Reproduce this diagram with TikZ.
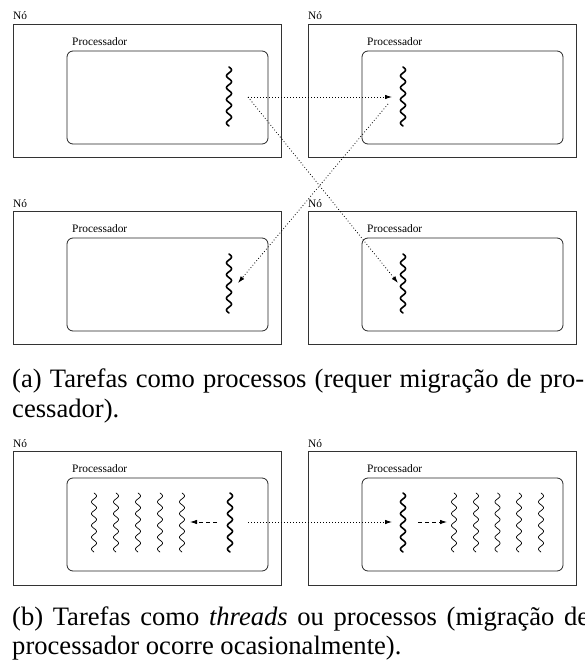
\documentclass[tikz,border=0pt]{standalone}
\usepackage{fontspec}
\setmainfont{Liberation Serif}
\usetikzlibrary{arrows.meta}
\newcommand\mythread[4]{%
  \draw[#3] plot[smooth, domain=0:1, samples=121] ({#1+#4*sin(\x*1800)},{#2+59*\x});}
\begin{document}
\begin{tikzpicture}[x=1pt,y=-1pt,
  nodebox/.style={draw=black!80, line width=0.8pt, minimum width=268pt, minimum height=133pt, inner sep=0pt, outer sep=0pt, anchor=north west},
  procbox/.style={draw=black!85, line width=0.8pt, rounded corners=6pt, minimum width=201pt, minimum height=93pt, inner sep=0pt, outer sep=0pt, anchor=north west},
  lbl/.style={font=\fontsize{11.4}{13}\selectfont, inner sep=0pt, anchor=base west},
  captxt/.style={font=\fontsize{26.6}{30}\selectfont, inner sep=0pt, anchor=base west},
  threadA/.style={line width=1.6pt, line cap=round, black},
  threadB/.style={line width=0.7pt, line cap=round, black},
  migrarr/.style={line width=0.8pt, dash pattern=on 0.8pt off 2.2pt, -{Latex[length=7pt,width=4.5pt]}},
  localarr/.style={line width=0.8pt, dash pattern=on 4pt off 3pt, -{Latex[length=7pt,width=4.5pt]}},
]
\useasboundingbox (0,0) rectangle (584,661);

% ---------- (a) ----------
\node[nodebox] (n11) at (13,24) {};
\node[nodebox] (n12) at (308,24) {};
\node[nodebox] (n21) at (13,211) {};
\node[nodebox] (n22) at (308,211) {};
\node[procbox] (p11) at (67,51) {};
\node[procbox] (p12) at (362,51) {};
\node[procbox] (p21) at (67,238) {};
\node[procbox] (p22) at (362,238) {};
\node[lbl] (ln11) at (13,20) {Nó};
\node[lbl] (ln12) at (308,20) {Nó};
\node[lbl] (ln21) at (13,207) {Nó};
\node[lbl] (ln22) at (308,207) {Nó};
\node[lbl] (lp11) at (72,45.5) {Processador};
\node[lbl] (lp12) at (367,45.5) {Processador};
\node[lbl] (lp21) at (72,232.5) {Processador};
\node[lbl] (lp22) at (367,232.5) {Processador};

\mythread{229}{67}{threadA}{2.5}
\mythread{403}{67}{threadA}{2.5}
\mythread{229}{254}{threadA}{2.5}
\mythread{403}{254}{threadA}{2.5}

\coordinate (s1) at (248,97);
\coordinate (e1) at (392,97);
\coordinate (e2) at (398,283);
\coordinate (s3) at (388,104);
\coordinate (e3) at (238,283);
\draw[migrarr] (s1) -- (e1);
\draw[migrarr] (s1) -- (e2);
\draw[migrarr] (s3) -- (e3);

\node[captxt] (capa1) at (12,387) {\makebox[572pt][s]{(a) Tarefas como processos (requer migração de pro-}};
\node[captxt] (capa2) at (12,417) {cessador).};

% ---------- (b) ----------
\node[nodebox, minimum height=134pt] (m1) at (13,451) {};
\node[nodebox, minimum height=134pt] (m2) at (308,451) {};
\node[procbox] (q1) at (67,478) {};
\node[procbox] (q2) at (362,478) {};
\node[lbl] (lm1) at (13,447) {Nó};
\node[lbl] (lm2) at (308,447) {Nó};
\node[lbl] (lq1) at (72,472.5) {Processador};
\node[lbl] (lq2) at (367,472.5) {Processador};

\mythread{230}{493}{threadA}{2.5}
\mythread{403}{493}{threadA}{2.5}
\foreach \tx in {94,116,138,160,182} {\mythread{\tx}{493}{threadB}{2.5}}
\foreach \tx in {454,476,497.5,519,541} {\mythread{\tx}{493}{threadB}{2.5}}

\coordinate (bs) at (248,522);
\coordinate (be) at (392,522);
\coordinate (ls) at (217,522);
\coordinate (le) at (190,522);
\coordinate (rs) at (418,522);
\coordinate (re) at (447,522);
\draw[migrarr] (bs) -- (be);
\draw[localarr] (ls) -- (le);
\draw[localarr] (rs) -- (re);

\node[captxt] (capb1) at (12,625) {\makebox[577pt][s]{(b) Tarefas como \textit{threads} ou processos (migração de}};
\node[captxt] (capb2) at (12,654) {processador ocorre ocasionalmente).};
\end{tikzpicture}
\end{document}
